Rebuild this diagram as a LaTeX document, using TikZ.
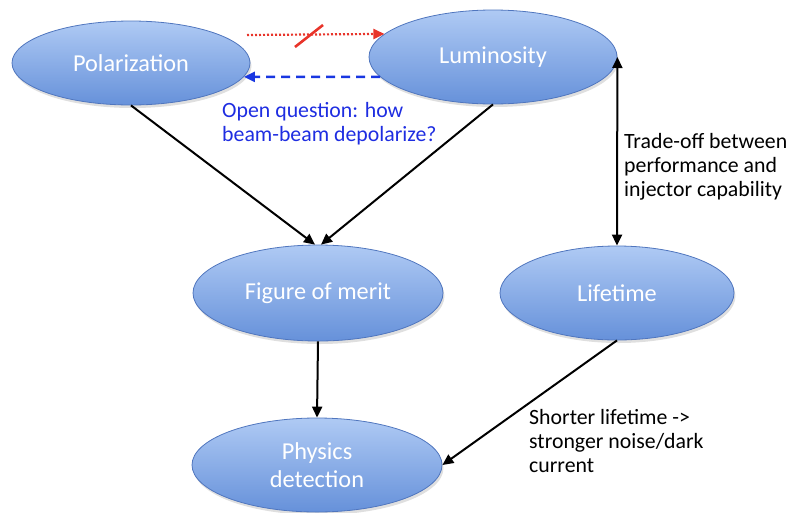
\documentclass[tikz,border=0pt]{standalone}
\usepackage{fontspec}
\setmainfont{Carlito}
\usetikzlibrary{shapes.geometric,arrows.meta,shadows}
\definecolor{ellfilltop}{RGB}{175,202,244}
\definecolor{ellfillbot}{RGB}{102,145,218}
\definecolor{elldraw}{RGB}{80,118,190}
\definecolor{qblue}{RGB}{30,45,225}
\definecolor{dblue}{RGB}{25,55,225}
\definecolor{rred}{RGB}{232,52,42}
\tikzset{
  ell/.style={ellipse, draw=elldraw, line width=0.8pt, top color=ellfilltop, bottom color=ellfillbot,
    text=white, inner sep=0pt, align=center, font=\fontsize{24.3}{28}\selectfont,
    drop shadow={opacity=0.25, shadow xshift=1.5pt, shadow yshift=-3pt}},
  lbl/.style={inner sep=0pt, anchor=west, align=left, font=\fontsize{21.8}{24}\selectfont},
  conn/.style={line width=2pt, -{Triangle[length=11pt,width=10pt]}},
  dconn/.style={line width=2pt, {Triangle[length=11pt,width=10pt]}-{Triangle[length=11pt,width=10pt]}},
}
\begin{document}
\begin{tikzpicture}[x=1pt,y=-1pt]
\useasboundingbox (0,0) rectangle (787,512);
\node[ell, minimum width=238pt, minimum height=84pt] (pol) at (131,63) {Polarization};
\node[ell, minimum width=248pt, minimum height=94pt] (lum) at (493,57) {Luminosity};
\node[ell, minimum width=250pt, minimum height=96pt] (fom) at (318,293) {Figure of merit};
\node[ell, minimum width=234pt, minimum height=94pt] (life) at (617,293) {Lifetime};
\node[ell, minimum width=250pt, minimum height=94pt] (phys) at (317,465) {Physics\\detection};

\coordinate (rs) at (247,35);
\draw[rred, line width=2.2pt, dash pattern=on 2pt off 2pt, -{Triangle[length=11pt,width=10pt]}] (rs) -- (lum.168.7);
\draw[rred, line width=2.6pt] (295,47) -- (323,25);
\draw[dblue, line width=2.4pt, dash pattern=on 9pt off 6pt, -{Triangle[length=11pt,width=10pt]}] (lum.190.7) -- (pol.-7);

\node[lbl, text=qblue] (oq) at (222,123.5) {Open question: how\\beam-beam depolarize?};
\node[lbl] (to) at (624,167) {Trade-off between\\performance and\\injector capability};
\node[lbl] (sl) at (529,441) {Shorter lifetime ->\\stronger noise/dark\\current};

\draw[conn] (pol.south) -- ([xshift=-3pt]fom.north);
\draw[conn] (lum.south) -- ([xshift=3pt]fom.north);
\draw[dconn] (lum.east) -- (life.north);
\draw[conn] (fom.south) -- (phys.north);
\draw[conn] (life.south) -- (phys.east);
\end{tikzpicture}
\end{document}
